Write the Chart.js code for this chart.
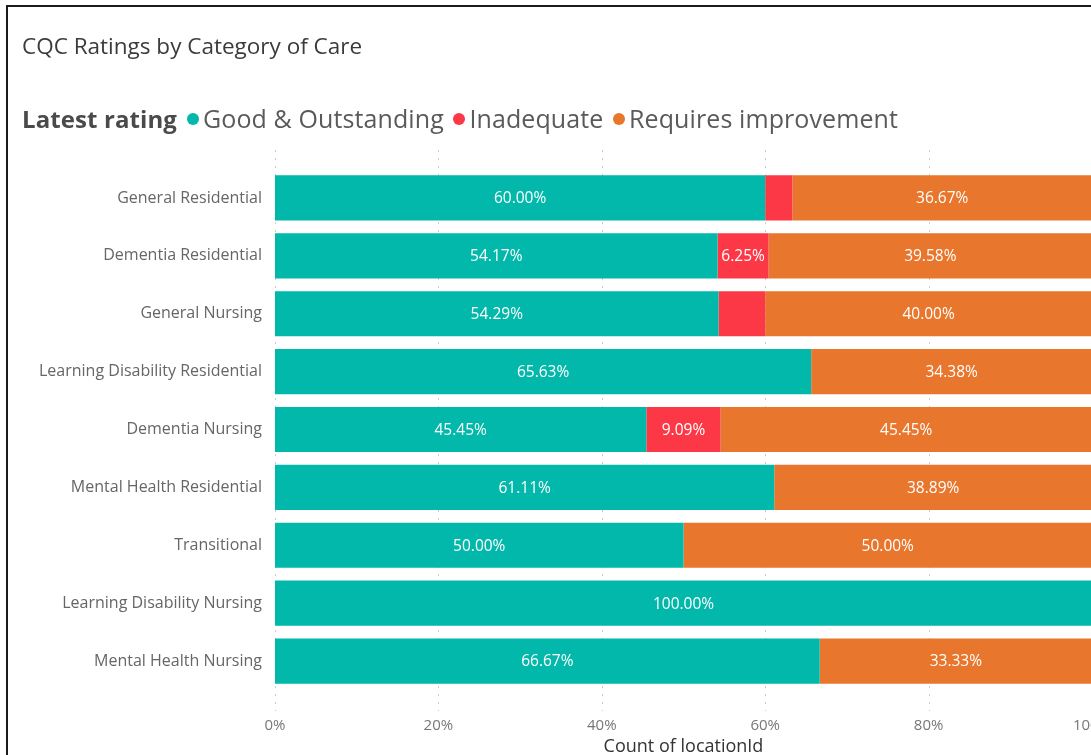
<!DOCTYPE html>
<html>
<head>
<meta charset="utf-8">
<script src="https://cdn.jsdelivr.net/npm/chart.js@4.4.1/dist/chart.umd.min.js"></script>
<style>
html, body { margin: 0; padding: 0; width: 1091px; height: 755px; overflow: hidden; background: #fff; font-family: 'Open Sans', sans-serif; }
#frame { position: absolute; left: 6px; top: 5px; width: 1200px; height: 800px; border-top: 2px solid #1b1b1b; border-left: 2px solid #1b1b1b; pointer-events: none; }
#title { position: absolute; left: 22px; top: 30px; font-size: 22.5px; color: #3b3b3b; white-space: nowrap; }
#legend { position: absolute; left: 22px; top: 101px; font-size: 25px; color: #5a5a5a; white-space: nowrap; letter-spacing: 0.1px; }
#legend b { color: #4a4a4a; font-size: 24px; margin-right: 7px; }
#legend .dot { display: inline-block; width: 12px; height: 12px; border-radius: 50%; margin: 0 4px 0 3px; vertical-align: 3px; }
#wrap { position: absolute; left: 0; top: 0; width: 1130px; height: 755px; }
</style>
</head>
<body>
<div id="wrap"><canvas id="cqcChart"></canvas></div>
<div id="frame"></div>
<div id="title">CQC Ratings by Category of Care</div>
<div id="legend"><b>Latest rating</b><span class="dot" style="background:#01B8AA"></span>Good &amp; Outstanding <span class="dot" style="background:#FD3846"></span>Inadequate <span class="dot" style="background:#E8762C"></span>Requires improvement</div>
<script>
// Categorías de atención
const categories = ['General Residential', 'Dementia Residential', 'General Nursing',
    'Learning Disability Residential', 'Dementia Nursing', 'Mental Health Residential',
    'Transitional', 'Learning Disability Nursing', 'Mental Health Nursing'];

// Porcentajes por calificación
const goodOutstanding = [60.00, 54.17, 54.29, 65.63, 45.45, 61.11, 50.00, 100.00, 66.67];
const inadequate = [3.33, 6.25, 5.71, 0, 9.09, 0, 0, 0, 0];
const requiresImprovement = [36.67, 39.58, 40.00, 34.38, 45.45, 38.89, 50.00, 0, 33.33];

const xTicks = [0, 20, 40, 60, 80, 100];

// Líneas punteadas verticales
const dottedGrid = {
    id: 'dottedGrid',
    beforeDatasetsDraw(chart) {
        const ctx = chart.ctx;
        const xs = chart.scales.x;
        ctx.save();
        ctx.strokeStyle = '#cccccc';
        ctx.lineWidth = 1;
        ctx.setLineDash([2, 6]);
        xTicks.forEach(v => {
            const px = Math.round(xs.getPixelForValue(v)) + 0.5;
            ctx.beginPath();
            ctx.moveTo(px, 150);
            ctx.lineTo(px, 711);
            ctx.stroke();
        });
        ctx.restore();
    }
};

// Etiquetas dentro de las barras
const barLabels = {
    id: 'barLabels',
    afterDatasetsDraw(chart) {
        const ctx = chart.ctx;
        ctx.save();
        ctx.font = '15.5px "Open Sans", sans-serif';
        ctx.fillStyle = '#ffffff';
        ctx.textAlign = 'center';
        ctx.textBaseline = 'middle';
        chart.data.datasets.forEach((ds, i) => {
            chart.getDatasetMeta(i).data.forEach((bar, j) => {
                const v = ds.data[j];
                if (!v) return;
                const text = v.toFixed(2) + '%';
                const w = Math.abs(bar.x - bar.base);
                if (ctx.measureText(text).width + 5 > w) return;
                ctx.fillText(text, (bar.x + bar.base) / 2, bar.y + 1);
            });
        });
        ctx.restore();
    }
};

const ctxCqc = document.getElementById('cqcChart').getContext('2d');
new Chart(ctxCqc, {
    type: 'bar',
    data: {
        labels: categories,
        datasets: [
            { label: 'Good & Outstanding', data: goodOutstanding, backgroundColor: '#01B8AA' },
            { label: 'Inadequate', data: inadequate, backgroundColor: '#FD3846' },
            { label: 'Requires improvement', data: requiresImprovement, backgroundColor: '#E8762C' }
        ]
    },
    options: {
        indexAxis: 'y',
        responsive: true,
        maintainAspectRatio: false,
        animation: false,
        layout: { padding: { top: 169, right: 38, left: 0, bottom: 0 } },
        datasets: { bar: { barPercentage: 0.78, categoryPercentage: 1 } },
        scales: {
            x: {
                stacked: true,
                min: 0,
                max: 100,
                grid: { display: false },
                border: { display: false },
                ticks: {
                    stepSize: 20,
                    padding: 19,
                    color: '#777',
                    font: { family: 'Open Sans', size: 15 },
                    callback: v => v + '%'
                },
                title: {
                    display: true,
                    text: 'Count of locationId',
                    color: '#333',
                    font: { family: 'Open Sans', size: 18 },
                    padding: { top: 0, bottom: -3 }
                },
                afterFit(s) { s.height = 65; s.paddingLeft = 0; s.paddingRight = 0; }
            },
            y: {
                stacked: true,
                grid: { display: false, drawTicks: false },
                border: { display: false },
                ticks: {
                    padding: 13,
                    color: '#666',
                    font: { family: 'Open Sans', size: 16 }
                },
                afterFit(s) { s.width = 275; }
            }
        },
        plugins: {
            legend: { display: false },
            tooltip: { enabled: false }
        }
    },
    plugins: [dottedGrid, barLabels]
});
</script>
</body>
</html>
